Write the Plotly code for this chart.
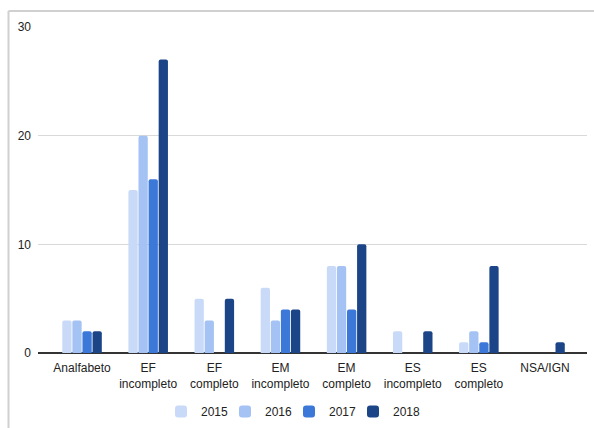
import plotly.graph_objects as go

categories = ["Analfabeto", "EF<br>incompleto", "EF<br>completo", "EM<br>incompleto",
              "EM<br>completo", "ES<br>incompleto", "ES<br>completo", "NSA/IGN"]
years = ["2015", "2016", "2017", "2018"]
v2015 = [3, 15, 5, 6, 8, 2, 1, 0]
v2016 = [3, 20, 3, 3, 8, 0, 2, 0]
v2017 = [2, 16, 0, 4, 4, 0, 1, 0]
v2018 = [2, 27, 5, 4, 10, 2, 8, 1]
series = [v2015, v2016, v2017, v2018]
colors = ["#c9daf8", "#a4c2f4", "#3c78d8", "#1c4587"]
y_ticks = [0, 10, 20, 30]

W, H = 594, 428
L, R, T, B = 38, 7, 27, 75

fig = go.Figure()
for i, (name, vals, col) in enumerate(zip(years, series, colors)):
    fig.add_trace(go.Bar(x=categories, y=vals, name=name, marker_color=col,
                         marker_line_width=0,
                         legendwidth=40 if i == len(years) - 1 else 19))

pw, ph = W - L - R, H - T - B
def px(x):
    return (x - L) / pw
def py(y):
    return (H - B - y) / ph

fig.update_layout(
    width=W, height=H,
    margin=dict(l=L, r=R, t=T, b=B, autoexpand=False),
    paper_bgcolor="white", plot_bgcolor="white",
    barmode="group", bargap=0.39, bargroupgap=0.08, barcornerradius=2,
    font=dict(family="Liberation Sans, Arial, sans-serif", size=12, color="#222"),
    showlegend=True,
    legend=dict(orientation="h", xref="container", yref="container",
                x=161 / W, xanchor="left", y=1 - 397 / H, yanchor="top",
                font=dict(size=12, color="#222"), itemwidth=30,
                traceorder="normal", bgcolor="rgba(0,0,0,0)"),
    xaxis=dict(showgrid=False, showline=False, ticks="", automargin=False,
               range=[-0.666, 7.635], ticklabelstandoff=6,
               tickfont=dict(size=12, color="#222"), fixedrange=True),
    yaxis=dict(range=[0, 30], tickvals=y_ticks, showgrid=True, gridcolor="#d9d9d9",
               gridwidth=1, zeroline=True, zerolinecolor="#333", zerolinewidth=1.5,
               ticks="", ticklabelstandoff=6, automargin=False,
               tickfont=dict(size=12, color="#222")),
    shapes=[
        dict(type="line", xref="paper", yref="paper", x0=px(8.5), x1=px(W), y0=py(11), y1=py(11),
             line=dict(color="#d0d0d0", width=2)),
        dict(type="line", xref="paper", yref="paper", x0=px(8.5), x1=px(8.5), y0=py(11), y1=py(H),
             line=dict(color="#d0d0d0", width=2)),
    ],
)

fig.write_html("out.html")
